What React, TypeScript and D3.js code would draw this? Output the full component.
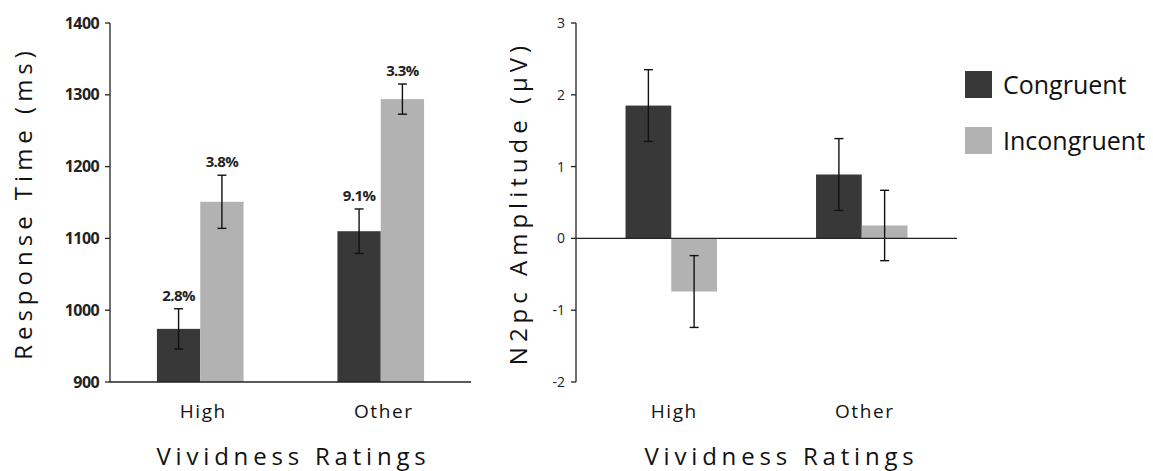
import React from 'react';
import * as d3 from 'd3';

// categories and series
const categories = ['High', 'Other'];
const series = ['Congruent', 'Incongruent'];

// response time panel
const rtMeans = { Congruent: [974, 1110], Incongruent: [1151, 1294] };
const rtErrors = { Congruent: [28, 31], Incongruent: [37, 21] };
const errorRateLabels = { Congruent: ['2.8%', '9.1%'], Incongruent: ['3.8%', '3.3%'] };
const rtTicks = [900, 1000, 1100, 1200, 1300, 1400];

// N2pc panel
const n2pcMeans = { Congruent: [1.85, 0.89], Incongruent: [-0.74, 0.18] };
const n2pcErrors = { Congruent: [0.5, 0.5], Incongruent: [0.5, 0.49] };
const n2pcTicks = [-2, -1, 0, 1, 2, 3];

const colors = { Congruent: '#383838', Incongruent: '#b2b2b2' };
const font = '"Open Sans", "DejaVu Sans", sans-serif';

type Panel = {
  x0: number;
  x1: number;
  domain: [number, number];
  ticks: number[];
  means: Record<string, number[]>;
  errors: Record<string, number[]>;
  labels?: Record<string, string[]>;
  yTitle: string;
  yTitleX: number;
  xTitleShift: number;
  boldTicks: boolean;
  baseAtZero: boolean;
};

const Chart = ({ p }: { p: Panel }) => {
  const y = d3.scaleLinear().domain(p.domain).range([382, 23]);
  const x = d3.scaleBand().domain(categories).range([p.x0, p.x1]).paddingInner(0.52).paddingOuter(0.26);
  const xs = d3.scaleBand().domain(series).range([0, x.bandwidth()]);
  const base = p.baseAtZero ? y(0) : y(p.domain[0]);
  const mid = (p.x0 + p.x1) / 2;

  return (
    <g>
      {categories.map((c, i) =>
        series.map(s => {
          const v = p.means[s][i];
          const e = p.errors[s][i];
          const bx = (x(c) as number) + (xs(s) as number);
          const cx = bx + xs.bandwidth() / 2;
          return (
            <g key={c + s}>
              <rect x={bx} y={Math.min(y(v), base)} width={xs.bandwidth()} height={Math.abs(base - y(v))} fill={colors[s]} />
              <line x1={cx} x2={cx} y1={y(v + e)} y2={y(v - e)} stroke="#111" strokeWidth={1.4} />
              <line x1={cx - 4.5} x2={cx + 4.5} y1={y(v + e)} y2={y(v + e)} stroke="#111" strokeWidth={1.4} />
              <line x1={cx - 4.5} x2={cx + 4.5} y1={y(v - e)} y2={y(v - e)} stroke="#111" strokeWidth={1.4} />
              {p.labels && (
                <text x={cx} y={y(v + e) - 8} textAnchor="middle" fontSize={15} fontWeight="bold" letterSpacing={-0.6} fill="#222">
                  {p.labels[s][i]}
                </text>
              )}
            </g>
          );
        })
      )}
      {/* y axis */}
      <line x1={p.x0} x2={p.x0} y1={y(p.domain[1])} y2={y(p.domain[0])} stroke="#222" strokeWidth={1.3} />
      {p.ticks.map(t => (
        <g key={t}>
          <line x1={p.x0 - 5} x2={p.x0} y1={y(t)} y2={y(t)} stroke="#222" strokeWidth={1.3} />
          <text
            x={p.x0 - 11}
            y={y(t)}
            dy="0.35em"
            textAnchor="end"
            fontSize={p.boldTicks ? 16 : 14}
            fontWeight={p.boldTicks ? 'bold' : 'normal'}
            letterSpacing={p.boldTicks ? -0.6 : 0}
            fill="#222"
          >
            {t}
          </text>
        </g>
      ))}
      {/* x axis */}
      <line x1={p.x0} x2={p.x1} y1={base} y2={base} stroke="#222" strokeWidth={1.3} />
      {categories.map(c => (
        <text key={c} x={(x(c) as number) + x.bandwidth() / 2 + 3} y={418} textAnchor="middle" fontSize={19} letterSpacing={1.6} fill="#111">
          {c}
        </text>
      ))}
      <text x={mid + p.xTitleShift} y={465} textAnchor="middle" fontSize={24} letterSpacing={4.8} fill="#111">
        Vividness Ratings
      </text>
      <text
        transform={`translate(${p.yTitleX},${203}) rotate(-90)`}
        textAnchor="middle"
        fontSize={24}
        letterSpacing={5}
        fill="#111"
      >
        {p.yTitle}
      </text>
    </g>
  );
};

export default function App() {
  const left: Panel = {
    x0: 110, x1: 471, domain: [900, 1400], ticks: rtTicks,
    means: rtMeans, errors: rtErrors, labels: errorRateLabels,
    yTitle: 'Response Time (ms)', yTitleX: 32, xTitleShift: 3,
    boldTicks: true, baseAtZero: false,
  };
  const right: Panel = {
    x0: 576, x1: 957, domain: [-2, 3], ticks: n2pcTicks,
    means: n2pcMeans, errors: n2pcErrors,
    yTitle: 'N2pc Amplitude (μV)', yTitleX: 527, xTitleShift: 15,
    boldTicks: false, baseAtZero: true,
  };
  return (
    <div style={{ position: 'absolute', left: 0, top: 0 }}>
      <svg width={1153} height={471} style={{ display: 'block', background: '#fff', fontFamily: font }}>
        <Chart p={left} />
        <Chart p={right} />
        {series.map((s, i) => (
          <g key={s} transform={`translate(965,${71 + i * 56})`}>
            <rect width={27} height={27} fill={colors[s]} />
            <text x={38} y={23} fontSize={25} fill="#111">{s}</text>
          </g>
        ))}
      </svg>
    </div>
  );
}
